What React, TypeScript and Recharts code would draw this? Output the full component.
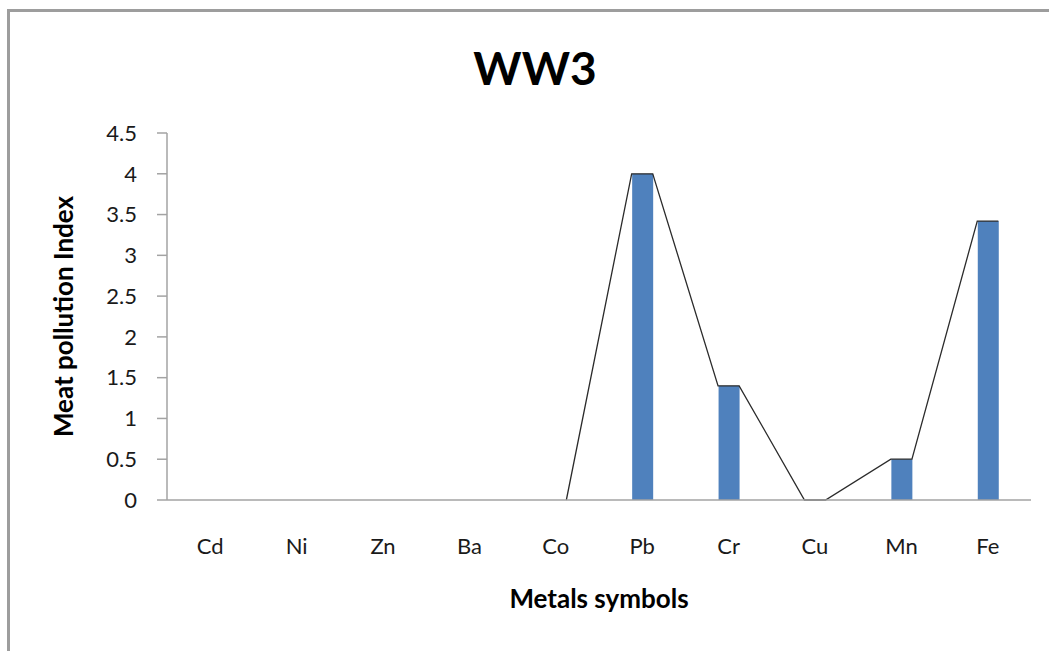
import { ComposedChart, Bar, Line, XAxis, YAxis, Label } from 'recharts';

const metals = ['Cd', 'Ni', 'Zn', 'Ba', 'Co', 'Pb', 'Cr', 'Cu', 'Mn', 'Fe'];
const mpiValues = [0, 0, 0, 0, 0, 4, 1.4, 0, 0.5, 3.42];
const yTicks = [0, 0.5, 1, 1.5, 2, 2.5, 3, 3.5, 4, 4.5];
const firstLineIndex = 4; // the line series starts at Co

const BAR_SIZE = 21;
const HALF = 0.122; // half a bar width, in category units

const barData = metals.map((metal, i) => ({ pos: i, metal, mpi: mpiValues[i] }));

// the line runs over the top corners of each bar (starting from the right corner of Co)
const lineData = metals
  .slice(firstLineIndex)
  .flatMap((_, k) => {
    const i = k + firstLineIndex;
    return [
      { pos: i - HALF, mpi: mpiValues[i] },
      { pos: i + HALF, mpi: mpiValues[i] },
    ];
  })
  .slice(1);

const font = 'Lato, "Open Sans", sans-serif';

// numeric x axis squeezes the bars, so draw them at a fixed width around their centre
const FixedBar = (props: any) => {
  const { x, y, width, height, fill } = props;
  if (!height || height <= 0) return null;
  const cx = x + width / 2;
  return <rect x={cx - BAR_SIZE / 2} y={y} width={BAR_SIZE} height={height} fill={fill} />;
};

export default function App() {
  return (
    <div style={{ position: 'fixed', left: 0, top: 0, width: 1049, height: 651, overflow: 'hidden', background: '#fff' }}>
      <div
        style={{
          position: 'absolute',
          left: 7,
          top: 9,
          width: 1100,
          height: 700,
          border: '3px solid #9d9d9d',
          boxSizing: 'border-box',
        }}
      />
      <div
        style={{
          position: 'absolute',
          left: 0,
          top: 40,
          width: 1070,
          textAlign: 'center',
          fontFamily: font,
          fontWeight: 700,
          fontSize: 46,
          lineHeight: '56px',
          color: '#000',
        }}
      >
        WW3
      </div>
      <ComposedChart
        width={1049}
        height={651}
        data={barData}
        margin={{ top: 133, right: 18, bottom: 0, left: 0 }}
        style={{ position: 'absolute', left: 0, top: 0, fontFamily: font }}
      >
        <YAxis
          type="number"
          domain={[0, 4.5]}
          ticks={yTicks}
          width={167}
          tickSize={10}
          tickMargin={20}
          axisLine={{ stroke: '#a3a3a3', strokeWidth: 1.5 }}
          tickLine={{ stroke: '#a3a3a3', strokeWidth: 1.5 }}
          tick={{ fill: '#1a1a1a', fontSize: 22 }}
        >
          <Label
            value="Meat pollution Index"
            angle={-90}
            position="insideLeft"
            offset={64}
            style={{ textAnchor: 'middle', fontWeight: 700, fontSize: 26, fill: '#000' }}
          />
        </YAxis>
        <Bar dataKey="mpi" fill="#4f81bd" barSize={BAR_SIZE} shape={FixedBar} isAnimationActive={false} />
        <Line
          data={lineData}
          dataKey="mpi"
          type="linear"
          stroke="#2b2b2b"
          strokeWidth={1.3}
          dot={false}
          activeDot={false}
          isAnimationActive={false}
        />
        <XAxis
          dataKey="pos"
          type="number"
          domain={[-0.5, 9.5]}
          ticks={metals.map((_, i) => i)}
          tickFormatter={(v: number) => metals[v] ?? ''}
          height={151}
          tickSize={0}
          tickMargin={38}
          interval={0}
          allowDataOverflow
          axisLine={{ stroke: '#a3a3a3', strokeWidth: 1.5 }}
          tick={{ fill: '#1a1a1a', fontSize: 22 }}
        >
          <Label
            value="Metals symbols"
            position="insideTop"
            offset={90}
            style={{ fontWeight: 700, fontSize: 26, fill: '#000' }}
          />
        </XAxis>
      </ComposedChart>
    </div>
  );
}
